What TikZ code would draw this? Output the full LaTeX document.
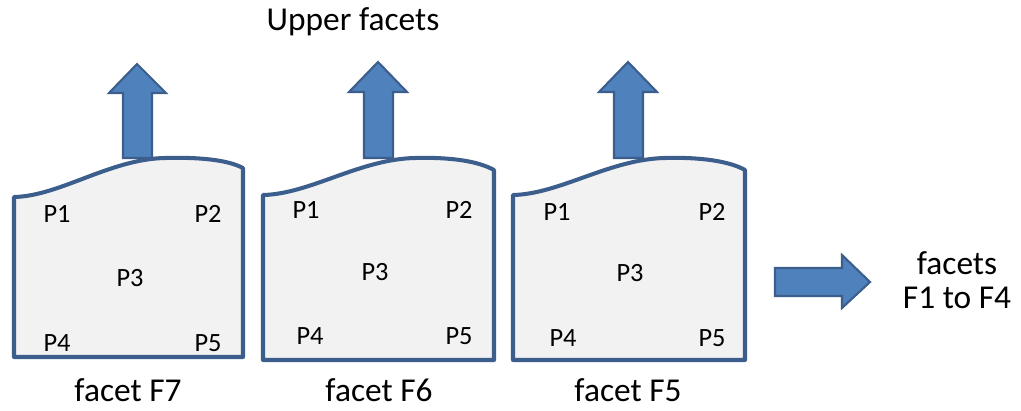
\documentclass[tikz,border=0pt]{standalone}
\usepackage{fontspec}
\setmainfont{Carlito}
\definecolor{edgeblue}{HTML}{3B5E8C}
\definecolor{arrowblue}{HTML}{4F81BD}
\definecolor{facetgray}{HTML}{F2F2F2}
\begin{document}
\begin{tikzpicture}[x=0.02cm, y=-0.02cm,
		facet/.style={draw=edgeblue, fill=facetgray, line width=2.3pt, line join=round},
		blockarrow/.style={draw=edgeblue, fill=arrowblue, line width=1.2pt, line join=miter},
		pt/.style={font=\fontsize{15}{17}\selectfont},
		caption/.style={font=\fontsize{19}{19.5}\selectfont}]
		\useasboundingbox (0,0) rectangle (1021,410);

		% facet F7
		\draw[facet] (14,357) -- (14,197) .. controls (60,196) and (110,159) .. (165,158)
			.. controls (200,157) and (228,160) .. (243,168) -- (243,357) -- cycle;
		\node[pt] (p1a) at (57,214) {P1};
		\node[pt] (p2a) at (208,214) {P2};
		\node[pt] (p3a) at (130,278) {P3};
		\node[pt] (p4a) at (57,343) {P4};
		\node[pt] (p5a) at (208,343) {P5};
		\node[caption] (f7) at (128,390) {facet F7};
		\draw[blockarrow] (123,158) -- (123,93) -- (109,93) -- (137,64) -- (166,93) -- (152,93) -- (152,158) -- cycle;

		% facet F6
		\draw[facet] (263,360) -- (263,195) .. controls (310,194) and (360,159) .. (415,158)
			.. controls (450,157) and (478,161) .. (494,170) -- (494,360) -- cycle;
		\node[pt] (p1b) at (306,210) {P1};
		\node[pt] (p2b) at (459,210) {P2};
		\node[pt] (p3b) at (375,272) {P3};
		\node[pt] (p4b) at (310,336) {P4};
		\node[pt] (p5b) at (459,336) {P5};
		\node[caption] (f6) at (379,390) {facet F6};
		\draw[blockarrow] (364,158) -- (364,92) -- (349,92) -- (378,62) -- (407,92) -- (393,92) -- (393,158) -- cycle;

		% facet F5
		\draw[facet] (513,360) -- (513,195) .. controls (560,194) and (610,159) .. (665,158)
			.. controls (700,157) and (729,161) .. (745,170) -- (745,360) -- cycle;
		\node[pt] (p1c) at (557,212) {P1};
		\node[pt] (p2c) at (712,212) {P2};
		\node[pt] (p3c) at (630,273) {P3};
		\node[pt] (p4c) at (563,338) {P4};
		\node[pt] (p5c) at (712,338) {P5};
		\node[caption] (f5) at (628,390) {facet F5};
		\draw[blockarrow] (614,158) -- (614,92) -- (599,92) -- (628,62) -- (657,92) -- (643,92) -- (643,158) -- cycle;

		\node[caption] (upper) at (353,22) {Upper facets};

		% to the remaining facets
		\draw[blockarrow] (775,268) -- (842,268) -- (842,255) -- (870,282) -- (842,308) -- (842,296) -- (775,296) -- cycle;
		\node[caption, align=center] (rest) at (957,280) {facets\\F1 to F4};
	\end{tikzpicture}
\end{document}
